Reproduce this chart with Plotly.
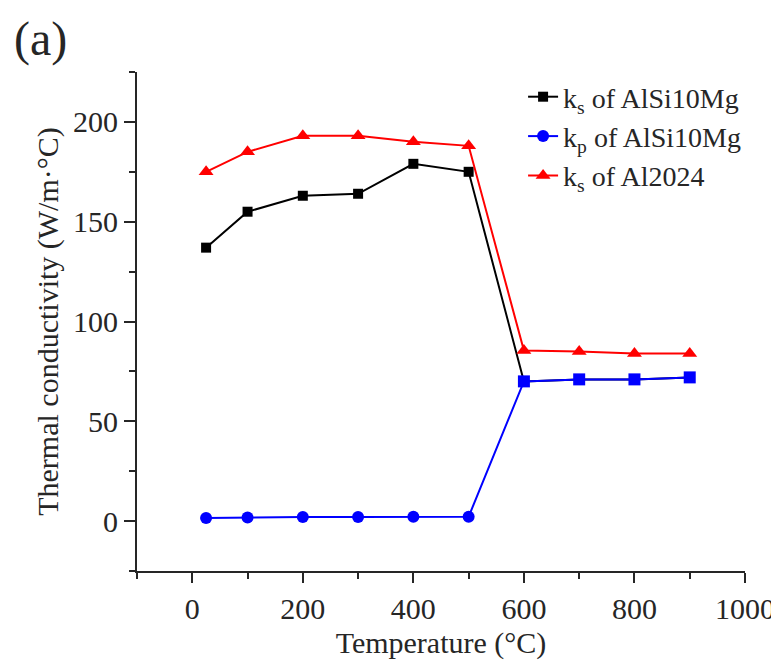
import plotly.graph_objects as go

temps = [25, 100, 200, 300, 400, 500, 600, 700, 800, 900]
ks_alsi = [137, 155, 163, 164, 179, 175, 70, 71, 71, 72]
kp_alsi = [1.5, 1.8, 2.0, 2.0, 2.2, 2.2, 70, 71, 71, 72]
ks_al2024 = [175, 185, 193, 193, 190, 188, 85.5, 85, 84, 84]

names = ["k<sub>s</sub> of AlSi10Mg", "k<sub>p</sub> of AlSi10Mg", "k<sub>s</sub> of Al2024"]
xticks = [0, 200, 400, 600, 800, 1000]
yticks = [0, 50, 100, 150, 200]

FONT = "Liberation Serif, Times New Roman, serif"
AX = "#262626"

fig = go.Figure()
fig.add_trace(go.Scatter(x=temps, y=ks_alsi, name=names[0], mode="lines+markers",
                         line=dict(color="black", width=2),
                         marker=dict(symbol="square", size=10, color="black"),
                         legendrank=1))
fig.add_trace(go.Scatter(x=temps, y=ks_al2024, name=names[2], mode="lines+markers",
                         line=dict(color="#ff0000", width=2),
                         marker=dict(symbol="triangle-up", size=13, color="#ff0000"),
                         legendrank=3))
fig.add_trace(go.Scatter(x=temps, y=kp_alsi, name=names[1], mode="lines+markers",
                         line=dict(color="#0000ff", width=2),
                         marker=dict(symbol=["circle"] * 6 + ["square"] * 4, size=12, color="#0000ff"),
                         legendrank=2))

fig.update_layout(
    width=779, height=666,
    margin=dict(l=129, r=34, t=64, b=103),
    paper_bgcolor="white", plot_bgcolor="white",
    font=dict(family=FONT, size=30, color=AX),
    showlegend=True,
    legend=dict(x=0.635, y=1.0, xanchor="left", yanchor="top",
                bgcolor="rgba(0,0,0,0)", font=dict(size=28, family=FONT, color=AX),
                traceorder="normal", tracegroupgap=0),
    xaxis=dict(range=[-100, 1000], tickvals=xticks, showgrid=False, zeroline=False,
               showline=True, linecolor=AX, linewidth=2,
               ticks="outside", ticklen=10, tickwidth=2, tickcolor=AX,
               minor=dict(dtick=100, tick0=0, ticks="outside", ticklen=6, tickwidth=2, tickcolor=AX),
               title=dict(text="Temperature (°C)", font=dict(size=30, family=FONT, color=AX), standoff=8),
               tickfont=dict(size=30, family=FONT, color=AX)),
    yaxis=dict(range=[-25, 225], tickvals=yticks, showgrid=False, zeroline=False,
               showline=True, linecolor=AX, linewidth=2,
               ticks="outside", ticklen=11, tickwidth=2, tickcolor=AX,
               minor=dict(dtick=25, tick0=0, ticks="outside", ticklen=6, tickwidth=2, tickcolor=AX),
               title=dict(text="Thermal conductivity (W/m·°C)", font=dict(size=30, family=FONT, color=AX), standoff=6),
               tickfont=dict(size=30, family=FONT, color=AX)),
)

fig.add_annotation(text="(a)", xref="paper", yref="paper", x=-0.205, y=1.125,
                   xanchor="left", yanchor="top", showarrow=False,
                   font=dict(size=48, family=FONT, color=AX))

fig.write_html("out.html")
